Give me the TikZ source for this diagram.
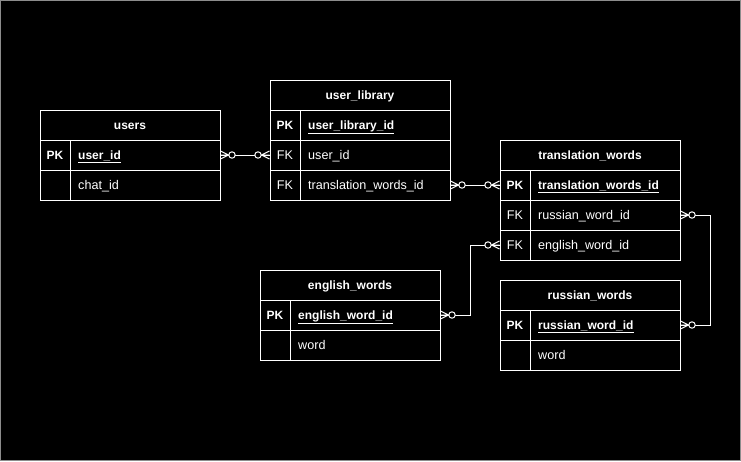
\documentclass[tikz,border=0pt]{standalone}
\usepackage{fontspec}
\setmainfont{Liberation Sans}
\usetikzlibrary{positioning}
\definecolor{bg}{HTML}{000000}
\definecolor{line}{HTML}{FFFFFF}
\definecolor{frame}{HTML}{8C8C8C}
\tikzset{
  title/.style={draw=line, line width=1pt, text=line, font=\fontsize{12}{14}\selectfont\bfseries, minimum width=180pt, minimum height=30pt, inner sep=0pt, text height=9pt, text depth=0pt},
  row/.style={draw=line, line width=1pt, minimum width=180pt, minimum height=30pt, inner sep=0pt},
  keycol/.style={draw=line, line width=1pt, text=line, font=\fontsize{12}{14}\selectfont\bfseries, minimum width=30pt, minimum height=30pt, inner sep=0pt, text height=9pt, text depth=0pt},
  fkcol/.style={keycol, font=\fontsize{12.6}{14}\selectfont},
  field/.style={text=line, font=\fontsize{12.6}{14}\selectfont, anchor=west, inner sep=0pt, text height=9pt, text depth=0pt},
  keyfield/.style={field, font=\fontsize{12}{14}\selectfont\bfseries},
  link/.style={draw=line, line width=1pt},
  zmany/.pic={
    \draw[link] (0,-4)--(8,0)--(0,4) (0,0)--(8,0);
    \draw[link, fill=bg] (11.5,0) circle (3.2);
  }
}

\begin{document}
\begin{tikzpicture}[x=1pt, y=-1pt]
\useasboundingbox (0,0) rectangle (741,461);
\fill[bg] (0,0) rectangle (741,461);
\draw[frame, line width=1pt] (0.5,0.5) rectangle (740.5,460.5);

% users
\node[title] (u-t) at (130,125) {users};
\node[row] (u-uid) at (130,155) {};
\node[keycol] (u-k1) at (55,155) {PK};
\node[keyfield] (u-f1) at (78,155) {\underline{user\_id}};
\node[row] (u-cid) at (130,185) {};
\node[keycol] (u-k2) at (55,185) {};
\node[field] (u-f2) at (78,185) {chat\_id};

% user_library
\node[title] (ul-t) at (360,95) {user\_library};
\node[row] (ul-pk) at (360,125) {};
\node[keycol] (ul-k1) at (285,125) {PK};
\node[keyfield] (ul-f1) at (308,125) {\underline{user\_library\_id}};
\node[row] (ul-uid) at (360,155) {};
\node[fkcol] (ul-k2) at (285,155) {FK};
\node[field] (ul-f2) at (308,155) {user\_id};
\node[row] (ul-twid) at (360,185) {};
\node[fkcol] (ul-k3) at (285,185) {FK};
\node[field] (ul-f3) at (308,185) {translation\_words\_id};

% translation_words
\node[title] (tw-t) at (590,155) {translation\_words};
\node[row] (tw-pk) at (590,185) {};
\node[keycol] (tw-k1) at (515,185) {PK};
\node[keyfield] (tw-f1) at (538,185) {\underline{translation\_words\_id}};
\node[row] (tw-ru) at (590,215) {};
\node[fkcol] (tw-k2) at (515,215) {FK};
\node[field] (tw-f2) at (538,215) {russian\_word\_id};
\node[row] (tw-en) at (590,245) {};
\node[fkcol] (tw-k3) at (515,245) {FK};
\node[field] (tw-f3) at (538,245) {english\_word\_id};

% english_words
\node[title] (ew-t) at (350,285) {english\_words};
\node[row] (ew-pk) at (350,315) {};
\node[keycol] (ew-k1) at (275,315) {PK};
\node[keyfield] (ew-f1) at (298,315) {\underline{english\_word\_id}};
\node[row] (ew-w) at (350,345) {};
\node[keycol] (ew-k2) at (275,345) {};
\node[field] (ew-f2) at (298,345) {word};

% russian_words
\node[title] (rw-t) at (590,295) {russian\_words};
\node[row] (rw-pk) at (590,325) {};
\node[keycol] (rw-k1) at (515,325) {PK};
\node[keyfield] (rw-f1) at (538,325) {\underline{russian\_word\_id}};
\node[row] (rw-w) at (590,355) {};
\node[keycol] (rw-k2) at (515,355) {};
\node[field] (rw-f2) at (538,355) {word};

% relations
\draw[link] (u-uid.east) -- (ul-uid.west);
\draw[link] (ul-twid.east) -- (tw-pk.west);
\draw[link] (ew-pk.east) -- ++(30,0) |- (tw-en.west);
\draw[link] (tw-ru.east) -- ++(30,0) |- (rw-pk.east);

\pic at (u-uid.east) {zmany};
\pic[rotate=180] at (ul-uid.west) {zmany};
\pic at (ul-twid.east) {zmany};
\pic[rotate=180] at (tw-pk.west) {zmany};
\pic at (ew-pk.east) {zmany};
\pic[rotate=180] at (tw-en.west) {zmany};
\pic at (tw-ru.east) {zmany};
\pic at (rw-pk.east) {zmany};
\end{tikzpicture}
\end{document}
